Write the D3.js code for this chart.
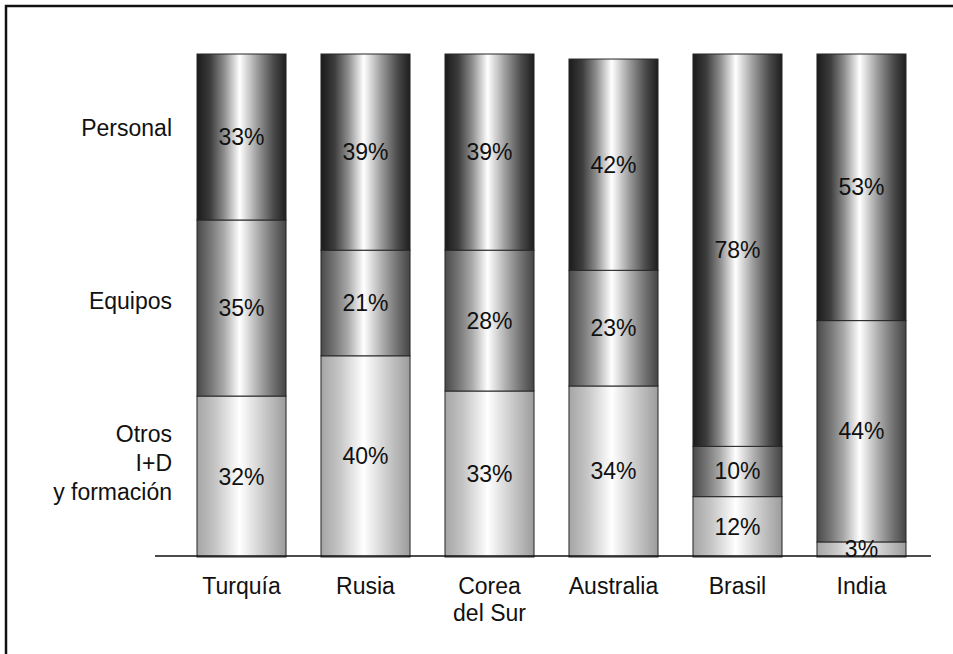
<!DOCTYPE html>
<html>
<head>
<meta charset="utf-8">
<script src="https://cdn.jsdelivr.net/npm/d3@7"></script>
<style>
  html, body { margin: 0; padding: 0; background: #fff; }
  svg { display: block; }
  text { font-family: Helvetica, Arial, "Liberation Sans", sans-serif; fill: #111; }
</style>
</head>
<body>
<svg id="chart" width="953" height="654"></svg>
<script>
// Distribution of R&D spending by type, per country (percent)
const countries = ["Turquía", "Rusia", "Corea del Sur", "Australia", "Brasil", "India"];
const countryLines = [["Turquía"], ["Rusia"], ["Corea", "del Sur"], ["Australia"], ["Brasil"], ["India"]];
const otros    = [32, 40, 33, 34, 12, 3];
const equipos  = [35, 21, 28, 23, 10, 44];
const personal = [33, 39, 39, 42, 78, 53];
const seriesKeys = ["otros", "equipos", "personal"];
const seriesLabels = [["Otros", "I+D", "y formación"], ["Equipos"], ["Personal"]];

const rows = countries.map((c, i) => ({
  country: c, otros: otros[i], equipos: equipos[i], personal: personal[i]
}));

const FONT = 23;
const svg = d3.select("#chart");

// outer frame
svg.append("rect")
  .attr("x", 6).attr("y", 6).attr("width", 1000).attr("height", 700)
  .attr("fill", "none").attr("stroke", "#111").attr("stroke-width", 2.5);

const x = d3.scaleBand().domain(countries).range([197, 906])
  .paddingInner(0.282).paddingOuter(0);
const y = d3.scaleLinear().domain([0, 100]).range([557, 54]);

// cylinder-like horizontal shading for each series
const shades = {
  personal: [[0, "#1b1b1b"], [0.15, "#3c3c3c"], [0.3, "#8a8a8a"], [0.48, "#ffffff"], [0.68, "#9a9a9a"], [0.86, "#4a4a4a"], [1, "#1e1e1e"]],
  equipos:  [[0, "#4a4a4a"], [0.15, "#757575"], [0.3, "#a8a8a8"], [0.48, "#ffffff"], [0.68, "#b0b0b0"], [0.86, "#707070"], [1, "#454545"]],
  otros:    [[0, "#a5a5a5"], [0.2, "#c4c4c4"], [0.48, "#ffffff"], [0.75, "#cacaca"], [1, "#9c9c9c"]]
};
const defs = svg.append("defs");
Object.entries(shades).forEach(([key, stops]) => {
  const g = defs.append("linearGradient").attr("id", "grad-" + key)
    .attr("x1", 0).attr("x2", 1).attr("y1", 0).attr("y2", 0);
  stops.forEach(([o, c]) => g.append("stop").attr("offset", o).attr("stop-color", c));
});

const stacked = d3.stack().keys(seriesKeys)(rows);

const layers = svg.append("g").selectAll("g")
  .data(stacked).join("g")
  .attr("fill", d => `url(#grad-${d.key})`);

layers.selectAll("rect")
  .data(d => d)
  .join("rect")
  .attr("x", d => x(d.data.country))
  .attr("width", x.bandwidth())
  .attr("y", d => y(d[1]))
  .attr("height", d => y(d[0]) - y(d[1]))
  .attr("stroke", "#262626")
  .attr("stroke-width", 1);

// value labels centred in each segment
const labels = svg.append("g");
stacked.forEach(layer => {
  layer.forEach(d => {
    labels.append("text")
      .attr("x", x(d.data.country) + x.bandwidth() / 2)
      .attr("y", (y(d[0]) + y(d[1])) / 2)
      .attr("text-anchor", "middle")
      .attr("dominant-baseline", "central")
      .attr("font-size", FONT)
      .text((d[1] - d[0]) + "%");
  });
});

// baseline
svg.append("line")
  .attr("x1", 155).attr("x2", 931)
  .attr("y1", 556).attr("y2", 556)
  .attr("stroke", "#111").attr("stroke-width", 1.3);

// category labels
const cat = svg.append("g").selectAll("text")
  .data(countries).join("text")
  .attr("x", d => x(d) + x.bandwidth() / 2)
  .attr("y", 594)
  .attr("text-anchor", "middle")
  .attr("font-size", FONT);
cat.each(function (d, i) {
  d3.select(this).selectAll("tspan")
    .data(countryLines[i]).join("tspan")
    .attr("x", x(d) + x.bandwidth() / 2)
    .attr("dy", (t, j) => j === 0 ? 0 : 27)
    .text(t => t);
});

// series names on the left, beside the first column's segments
const first = countries[0];
const lineH = 29;
const legendNudge = [-14, -7, -9];
stacked.forEach((layer, k) => {
  const d = layer.find(e => e.data.country === first);
  const mid = (y(d[0]) + y(d[1])) / 2 + legendNudge[k];
  const lines = seriesLabels[k];
  const t = svg.append("text")
    .attr("x", 172)
    .attr("y", mid - (lines.length - 1) * lineH / 2)
    .attr("text-anchor", "end")
    .attr("dominant-baseline", "central")
    .attr("font-size", FONT);
  lines.forEach((s, j) => {
    t.append("tspan").attr("x", 172).attr("dy", j === 0 ? 0 : lineH).text(s);
  });
});
</script>
</body>
</html>
